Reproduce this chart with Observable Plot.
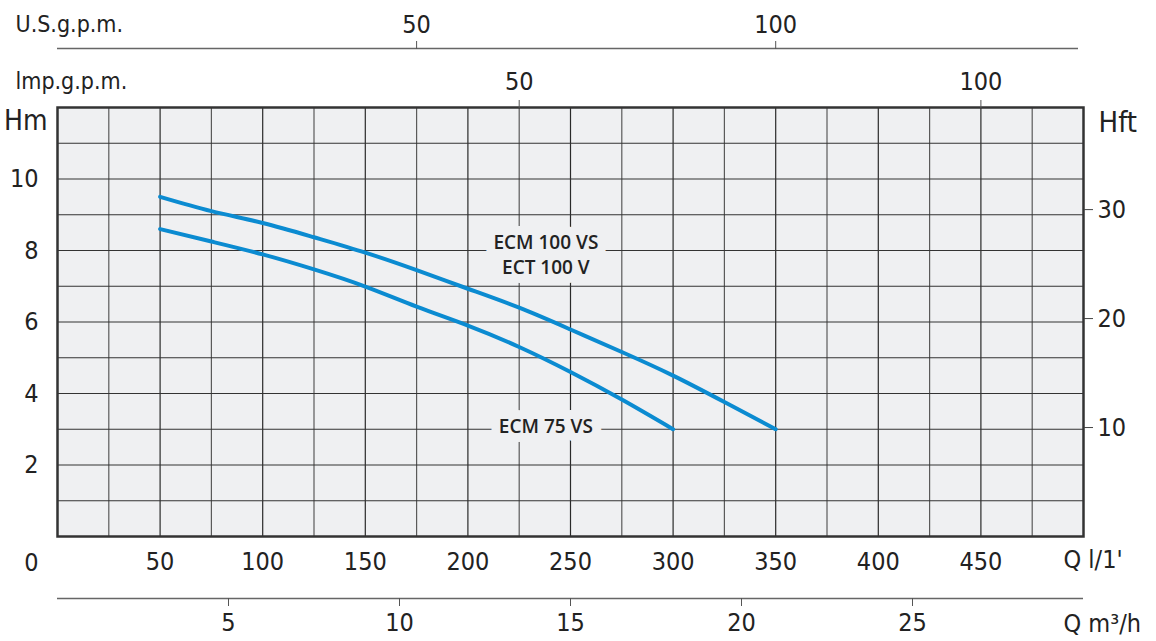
<!DOCTYPE html>
<html>
<head>
<meta charset="utf-8">
<script src="https://cdn.jsdelivr.net/npm/d3@7"></script>
<script src="https://cdn.jsdelivr.net/npm/@observablehq/plot@0.6"></script>
<style>
html, body { margin: 0; padding: 0; background: #fff; }
#chart { width: 1156px; height: 641px; }
</style>
</head>
<body>
<div id="chart"></div>
<script>
// ---- data (flow in l/min, head in m) ----
const flowECM100 = [50, 75, 100, 125, 150, 175, 200, 225, 250, 275, 300, 325, 350];
const headECM100 = [9.5, 9.1, 8.77, 8.37, 7.94, 7.45, 6.93, 6.4, 5.79, 5.16, 4.5, 3.76, 3.0];
const flowECM75 = [50, 75, 100, 125, 150, 175, 200, 225, 250, 275, 300];
const headECM75 = [8.6, 8.25, 7.89, 7.47, 6.99, 6.43, 5.9, 5.3, 4.6, 3.83, 3.0];

const curveLabels = [
  { label: "ECM 100 VS\nECT 100 V", q: 238, h: 7.92 },
  { label: "ECM 75 VS", q: 238, h: 3.11 }
];

// ---- tick labels ----
const lminTicks = [50, 100, 150, 200, 250, 300, 350, 400, 450];
const hmTicks = [2, 4, 6, 8, 10];
const hftTicks = [10, 20, 30];
const usGpmTicks = [50, 100];
const impGpmTicks = [50, 100];
const m3hTicks = [5, 10, 15, 20, 25];
const gridFlowMajor = d3.range(50, 500, 50);
const gridFlowMinor = d3.range(25, 500, 50);
const gridHead = d3.range(1, 12, 1);

// unit conversions into l/min and m (as drawn on the chart)
const US_GPM = 3.5, IMP_GPM = 4.5, M3H = 1000 / 60, FT = 0.3048;

const ecm100 = flowECM100.map((q, i) => ({ q, h: headECM100[i] }));
const ecm75 = flowECM75.map((q, i) => ({ q, h: headECM75[i] }));

const axisFont = "'DejaVu Sans Condensed', 'DejaVu Sans', sans-serif";
const bg = "#eff0f2";
const blue = "#0b8bd1";
const ink = "#222";

const plot = Plot.plot({
  width: 1156,
  height: 641,
  marginLeft: 57,
  marginRight: 73,
  marginTop: 107,
  marginBottom: 105,
  style: { fontFamily: axisFont, fontSize: "25px", color: ink, background: "#fff", overflow: "visible" },
  x: { domain: [0, 500], label: null },
  y: { domain: [0, 12], label: null },
  marks: [
    Plot.frame({ fill: bg }),
    Plot.ruleX(gridFlowMinor, { stroke: "#5a5a5a", strokeWidth: 1.2 }),
    Plot.ruleX(gridFlowMajor, { stroke: "#2a2a2a", strokeWidth: 1.2 }),
    Plot.ruleY(gridHead, { stroke: "#333", strokeWidth: 1.2 }),
    Plot.text(curveLabels, {
      x: "q", y: "h", text: "label",
      fontFamily: "'Open Sans', 'Noto Sans', sans-serif", fontWeight: 600, fontSize: 19,
      lineHeight: 1.3, fill: ink, stroke: bg, strokeWidth: 18, strokeLinejoin: "round"
    }),
    Plot.line(ecm100, { x: "q", y: "h", stroke: blue, strokeWidth: 4, curve: "natural" }),
    Plot.line(ecm75, { x: "q", y: "h", stroke: blue, strokeWidth: 4, curve: "natural" }),
    Plot.frame({ stroke: "#333", strokeWidth: 2.5 }),

    // left axis (Hm)
    Plot.axisY(hmTicks, { anchor: "left", tickSize: 0, tickPadding: 19 }),
    // right axis (Hft)
    Plot.axisY(hftTicks.map(d => d * FT), {
      anchor: "right", tickSize: 9, tickPadding: 5, stroke: "#444",
      tickFormat: d => Math.round(d / FT)
    }),
    // bottom axis (l/min)
    Plot.axisX(lminTicks, { anchor: "bottom", tickSize: 0, tickPadding: 16 }),
    // second bottom axis (m3/h)
    Plot.ruleY([0], { dy: 62, stroke: "#666", strokeWidth: 1.5 }),
    Plot.axisX(m3hTicks.map(d => d * M3H), {
      anchor: "bottom", tickSize: 8, tickPadding: 7, dy: 62, stroke: "#555",
      tickFormat: d => Math.round(d / M3H)
    }),
    // top axis (Imp gpm) on the frame
    Plot.axisX(impGpmTicks.map(d => d * IMP_GPM), {
      anchor: "top", tickSize: 8, tickPadding: 10, stroke: "#555",
      tickFormat: d => Math.round(d / IMP_GPM)
    }),
    // top axis (US gpm)
    Plot.ruleY([12], { dy: -59, insetRight: 5, stroke: "#666", strokeWidth: 1.5 }),
    Plot.axisX(usGpmTicks.map(d => d * US_GPM), {
      anchor: "top", tickSize: 8, tickPadding: 8, dy: -59, stroke: "#555",
      tickFormat: d => Math.round(d / US_GPM)
    }),

    // unit labels
    Plot.text(["Hm"], { frameAnchor: "top-left", textAnchor: "end", lineAnchor: "middle", dx: -10, dy: 14, fontSize: 28, fill: ink }),
    Plot.text(["Hft"], { frameAnchor: "top-right", textAnchor: "start", lineAnchor: "middle", dx: 15, dy: 15, fontSize: 29, fill: ink }),
    Plot.text(["U.S.g.p.m."], { frameAnchor: "top-left", textAnchor: "start", lineAnchor: "bottom", dx: -42, dy: -76, fontSize: 23, fill: ink }),
    Plot.text(["lmp.g.p.m."], { frameAnchor: "top-left", textAnchor: "start", lineAnchor: "bottom", dx: -42, dy: -19, fontSize: 23, fill: ink }),
    Plot.text(["0"], { frameAnchor: "bottom-left", textAnchor: "end", lineAnchor: "middle", dx: -19, dy: 26, fontSize: 25, fill: ink }),
    Plot.text(["Q l/1'"], { frameAnchor: "bottom-right", textAnchor: "start", lineAnchor: "middle", dx: -20, dy: 23, fontSize: 25, fill: ink }),
    Plot.text(["Q m³/h"], { frameAnchor: "bottom-right", textAnchor: "start", lineAnchor: "middle", dx: -20, dy: 87, fontSize: 25, fill: ink })
  ]
});

document.getElementById("chart").appendChild(plot);
</script>
</body>
</html>
